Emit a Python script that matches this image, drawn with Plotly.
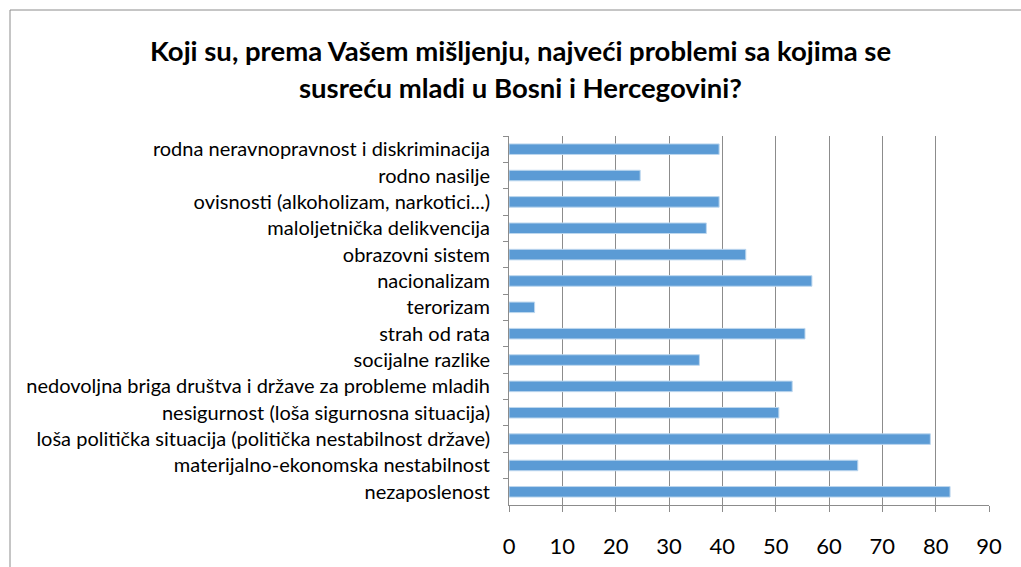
import plotly.graph_objects as go

categories = [
    "rodna neravnopravnost i diskriminacija",
    "rodno nasilje",
    "ovisnosti (alkoholizam, narkotici...)",
    "maloljetnička delikvencija",
    "obrazovni sistem",
    "nacionalizam",
    "terorizam",
    "strah od rata",
    "socijalne razlike",
    "nedovoljna briga društva i države za probleme mladih",
    "nesigurnost (loša sigurnosna situacija)",
    "loša politička situacija (politička nestabilnost države)",
    "materijalno-ekonomska nestabilnost",
    "nezaposlenost",
]
values = [39.4, 24.6, 39.4, 37.0, 44.4, 56.8, 4.8, 55.5, 35.7, 53.1, 50.6, 79.0, 65.4, 82.7]
x_ticks = [0, 10, 20, 30, 40, 50, 60, 70, 80, 90]

title_lines = [
    "Koji su, prema Vašem mišljenju, najveći problemi sa kojima se",
    "susreću mladi u Bosni i Hercegovini?",
]

FONT = "Lato"

fig = go.Figure(go.Bar(
    x=values, y=categories, orientation="h",
    marker=dict(color="#5B9BD5", line=dict(color="#BDD7EE", width=1)),
    width=0.4,
))

L, R, T, B = 509, 32, 136, 62
W, H = 1021, 567
pw, ph = W - L - R, H - T - B

fig.update_layout(
    width=W, height=H,
    margin=dict(l=L, r=R, t=T, b=B, autoexpand=False),
    paper_bgcolor="white", plot_bgcolor="white",
    showlegend=False,
    font=dict(family=FONT, color="black"),
)
for i, (line, ypx) in enumerate(zip(title_lines, [50, 88])):
    fig.add_annotation(text=line, xref="paper", yref="paper",
                       x=(520 - L) / pw, y=((H - B) - ypx) / ph,
                       xanchor="center", yanchor="middle", showarrow=False,
                       font=dict(family=FONT, size=27.5, color="black", weight="bold"))

fig.update_xaxes(
    range=[0, 90], tickvals=x_ticks, ticktext=[str(v) for v in x_ticks],
    showgrid=True, gridcolor="#8C8C8C", gridwidth=1,
    showline=True, linecolor="#8C8C8C", linewidth=1,
    ticks="outside", ticklen=6, tickcolor="#8C8C8C",
    ticklabelstandoff=16,
    tickfont=dict(size=22, family=FONT, color="black"),
    zeroline=False, fixedrange=True,
)
fig.update_yaxes(
    autorange="reversed", categoryorder="array", categoryarray=categories,
    showline=True, linecolor="#8C8C8C", linewidth=1,
    ticks="outside", ticklen=5, tickcolor="#8C8C8C", tickson="boundaries",
    ticklabelstandoff=14,
    tickfont=dict(size=20, family=FONT, color="black"),
    showgrid=False, fixedrange=True,
)
# chart border
fig.add_shape(type="rect", xref="paper", yref="paper",
              x0=(10 - L) / pw, x1=(W + 20 - L) / pw,
              y0=-(H + 20 - (H - B)) / ph, y1=((H - B) - 10) / ph,
              line=dict(color="#8C8C8C", width=1), fillcolor="rgba(0,0,0,0)", layer="below")

fig.write_html("out.html", config={"displayModeBar": False},
               post_script="document.body.style.margin='0';document.body.style.overflow='hidden';")
